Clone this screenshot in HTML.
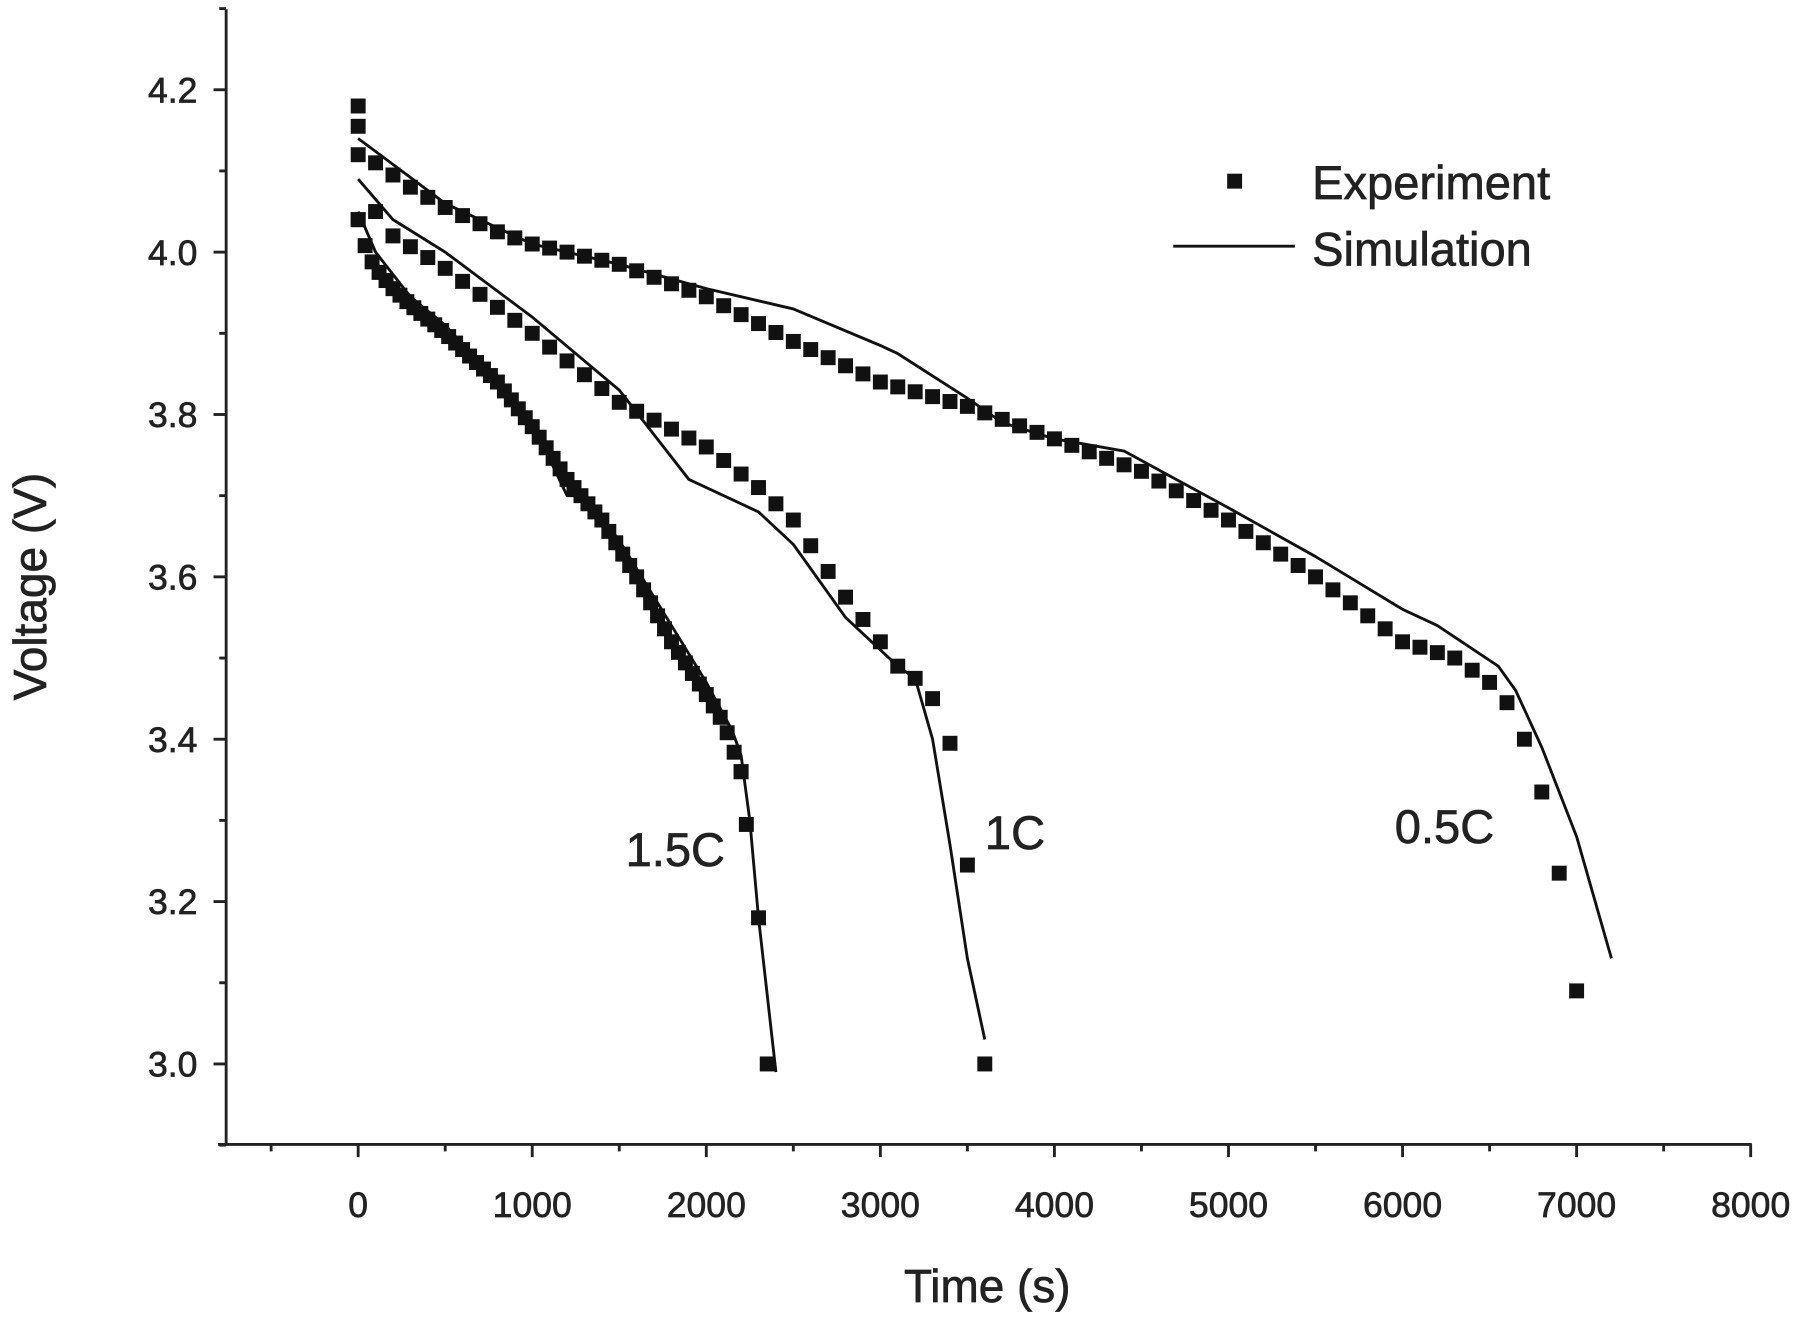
<!DOCTYPE html>
<html><head><meta charset="utf-8"><style>
html,body{margin:0;padding:0;background:#fff}
svg{display:block}
text{font-family:"Liberation Sans",Arial,sans-serif;fill:#222;stroke:#222;stroke-width:0.6}
</style></head><body>
<svg id="s" width="1800" height="1317" viewBox="0 0 1568 1145" preserveAspectRatio="none">
<g stroke="#222" stroke-width="2.5" fill="none" id="axes">
<line x1="197" y1="8" x2="197" y2="996"/>
<line x1="190" y1="995" x2="1526" y2="995"/>
</g>
<g font-size="31" text-anchor="end" id="yl"></g>
<g font-size="31" text-anchor="middle" id="xl"></g>
<text x="860" y="1132" font-size="40" text-anchor="middle">Time (s)</text>
<text transform="translate(40,510) rotate(-90)" font-size="40" text-anchor="middle">Voltage (V)</text>
<rect x="1069" y="151" width="13" height="13" fill="#111" stroke="none"/>
<text x="1143" y="173" font-size="41">Experiment</text>
<line x1="1022" y1="214" x2="1128" y2="214" stroke="#111" stroke-width="2.5"/>
<text x="1143" y="231" font-size="41">Simulation</text>
<text x="545" y="753" font-size="41">1.5C</text>
<text x="858" y="738" font-size="41">1C</text>
<text x="1215" y="733" font-size="41">0.5C</text>
<g id="d"></g>
</svg>
<script>
var NS="http://www.w3.org/2000/svg";
function X(t){return 312+t*0.15163;}
function Y(v){return 925-(v-3)*705.8;}
function el(p,n,a,txt){var e=document.createElementNS(NS,n);for(var k in a)e.setAttribute(k,a[k]);if(txt!==undefined)e.textContent=txt;document.getElementById(p).appendChild(e);}
for(var k=0;k<=14;k++){var v=2.9+k*0.1;var y=Y(v);var major=(k%2==1);
 el("axes","line",{x1:197,y1:y,x2:major?186:191,y2:y});
 if(major)el("yl","text",{x:172,y:y+11},v.toFixed(1));}
for(var t=-500;t<=8000;t+=500){var x=X(t);var major=(t%1000==0);
 el("axes","line",{x1:x,y1:995,x2:x,y2:major?1006:1001});
 if(major)el("xl","text",{x:x,y:1058},String(t));}
function interp(p,t){for(var i=1;i<p.length;i++){if(t<=p[i][0]){var a=p[i-1],b=p[i];return a[1]+(b[1]-a[1])*(t-a[0])/(b[0]-a[0]);}}return p[p.length-1][1];}
function line(p){el("d","polyline",{points:p.map(function(q){return X(q[0])+","+Y(q[1]);}).join(" "),fill:"none",stroke:"#111","stroke-width":2.5,"stroke-linejoin":"round"});}
function mk(t,v){el("d","rect",{x:X(t)-6.5,y:Y(v)-6.5,width:13,height:13,fill:"#111"});}
line([[0,4.14],[500,4.06],[1000,4.01],[1500,3.985],[2000,3.955],[2500,3.93],[3000,3.885],[3100,3.875],[3500,3.82],[3700,3.79],[4000,3.77],[4400,3.755],[5000,3.685],[5500,3.625],[6000,3.56],[6200,3.54],[6550,3.49],[6650,3.46],[6800,3.39],[7000,3.28],[7200,3.13]]);
line([[0,4.09],[200,4.04],[500,4.0],[1000,3.92],[1500,3.83],[1900,3.72],[2300,3.68],[2500,3.64],[2800,3.55],[3100,3.49],[3200,3.475],[3300,3.4],[3400,3.27],[3500,3.13],[3600,3.03]]);
line([[0,4.05],[100,4.0],[300,3.945],[500,3.91],[800,3.84],[1000,3.79],[1200,3.7],[1300,3.7],[1500,3.645],[1800,3.54],[2000,3.47],[2150,3.41],[2200,3.38],[2250,3.3],[2300,3.18],[2400,2.99]]);
var e05=[[0,4.12],[100,4.11],[300,4.08],[500,4.055],[800,4.025],[1000,4.01],[1500,3.985],[2000,3.945],[2500,3.89],[3000,3.84],[3500,3.81],[4000,3.77],[4500,3.73],[5000,3.67],[5500,3.6],[6000,3.52],[6300,3.5],[6500,3.47],[6600,3.445]];
mk(0,4.18);mk(0,4.155);
for(var t=0;t<=6600;t+=100)mk(t,interp(e05,t));
mk(6700,3.40);mk(6800,3.335);mk(6900,3.235);mk(7000,3.09);
var e1=[[0,4.04],[100,4.05],[200,4.02],[500,3.98],[1000,3.9],[1500,3.815],[2000,3.76],[2300,3.71],[2500,3.67],[2800,3.575],[3000,3.52],[3100,3.49],[3200,3.475],[3300,3.45]];
for(var t=0;t<=3300;t+=100)mk(t,interp(e1,t));
mk(3400,3.395);mk(3500,3.245);mk(3600,3.0);
var e15=[[0,4.04],[50,4.0],[100,3.98],[200,3.955],[300,3.935],[500,3.9],[800,3.84],[1000,3.785],[1200,3.72],[1400,3.67],[1600,3.6],[1800,3.52],[2000,3.455],[2100,3.42],[2150,3.39],[2200,3.36]];
for(var t=0;t<=2200;t+=40)mk(t,interp(e15,t));
mk(2200,3.36);mk(2230,3.295);mk(2300,3.18);mk(2350,3.0);
</script>
</body></html>
